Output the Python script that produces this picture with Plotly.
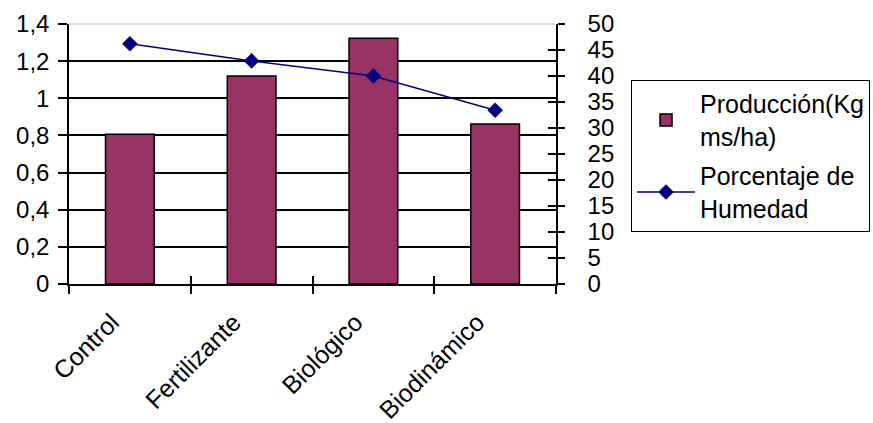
import plotly.graph_objects as go

# Tratamientos y valores medidos
categorias = ["Control", "Fertilizante", "Biológico", "Biodinámico"]
produccion = [0.806, 1.12, 1.323, 0.862]       # Producción (Kg ms/ha)
humedad = [46.2, 42.9, 40.0, 33.4]             # Porcentaje de Humedad

left_ticks = [0, 0.2, 0.4, 0.6, 0.8, 1.0, 1.2, 1.4]
right_ticks = list(range(0, 55, 5))

FONT = "Liberation Sans, Arial, sans-serif"
BAR_COLOR = "#993366"
LINE_COLOR = "#000080"

fig = go.Figure()

fig.add_trace(go.Bar(
    x=categorias, y=produccion,
    name="Producción(Kg<br>ms/ha)", legendgroup="prod",
    marker=dict(color=BAR_COLOR, line=dict(color="black", width=1.5)),
    yaxis="y", xaxis="x",
))

fig.add_trace(go.Scatter(
    x=categorias, y=humedad,
    name="Porcentaje de<br>Humedad", legendgroup="hum",
    mode="lines+markers",
    line=dict(color=LINE_COLOR, width=1.5),
    marker=dict(symbol="diamond", size=12, color=LINE_COLOR),
    yaxis="y2", xaxis="x",
))

axis_font = dict(family=FONT, size=24, color="black")

fig.update_layout(
    width=873, height=423, autosize=False,
    margin=dict(l=69, r=317, t=24, b=139, pad=0),
    paper_bgcolor="white", plot_bgcolor="white",
    separators=",.",
    bargap=0.6,
    font=axis_font,
    showlegend=True,
    legend=dict(
        xref="container", yref="container",
        x=0.9966, y=0.811, xanchor="right", yanchor="top",
        bordercolor="black", borderwidth=1, bgcolor="white",
        font=dict(family=FONT, size=25, color="black"),
        traceorder="grouped", tracegroupgap=4, itemwidth=58,
    ),
    xaxis=dict(
        type="category", categoryorder="array", categoryarray=categorias,
        range=[-0.5, 3.5], automargin=False,
        tickangle=-45, tickfont=dict(family=FONT, size=25, color="black"),
        ticklabelstandoff=12, ticklabelshift=-18,
        tickson="boundaries", ticks="outside", ticklen=8, tickwidth=1.5, tickcolor="black",
        showline=True, linecolor="black", linewidth=1.5,
        showgrid=False, zeroline=False,
    ),
    # inner half of the crossing ticks on the category axis
    xaxis2=dict(
        overlaying="x", anchor="y", side="bottom", automargin=False,
        range=[-0.5, 3.5], tickvals=[-0.5, 0.5, 1.5, 2.5, 3.5],
        ticks="inside", ticklen=8, tickwidth=1.5, tickcolor="black",
        showticklabels=False, showgrid=False, zeroline=False, showline=False,
    ),
    yaxis=dict(
        range=[0, 1.4], tickvals=left_ticks, automargin=False,
        tickfont=axis_font, ticklabelstandoff=4,
        ticks="outside", ticklen=9, tickwidth=1.5, tickcolor="black",
        showline=True, linecolor="black", linewidth=1.5,
        showgrid=False, zeroline=False,
    ),
    # gridlines plus inner half of the left ticks
    yaxis3=dict(
        overlaying="y", anchor="x", side="left", automargin=False,
        range=[0, 1.4], tickvals=left_ticks[1:-1],
        ticks="inside", ticklen=8, tickwidth=1.5, tickcolor="black",
        showticklabels=False, showgrid=True, gridcolor="black", gridwidth=1.5,
        zeroline=False, showline=False,
    ),
    yaxis2=dict(
        overlaying="y", anchor="x", side="right", automargin=False,
        range=[0, 50], tickvals=right_ticks,
        tickfont=axis_font, ticklabelstandoff=18,
        ticks="outside", ticklen=7, tickwidth=1.5, tickcolor="black",
        showline=True, linecolor="black", linewidth=1.5,
        showgrid=False, zeroline=False,
    ),
    # inner half of the right ticks
    yaxis4=dict(
        overlaying="y", anchor="x", side="right", automargin=False,
        range=[0, 50], tickvals=right_ticks,
        ticks="inside", ticklen=8, tickwidth=1.5, tickcolor="black",
        showticklabels=False, showgrid=False, zeroline=False, showline=False,
    ),
    shapes=[dict(
        type="line", xref="paper", yref="paper", x0=0, x1=1, y0=1, y1=1,
        line=dict(color="#c0c0c0", width=1), layer="below",
    )],
)

# empty helper traces so the overlay axes are rendered
fig.add_trace(go.Scatter(x=[None], y=[None], xaxis="x2", yaxis="y3",
                         showlegend=False, hoverinfo="skip"))
fig.add_trace(go.Scatter(x=[None], y=[None], xaxis="x", yaxis="y4",
                         showlegend=False, hoverinfo="skip"))

fig.write_html("out.html")
